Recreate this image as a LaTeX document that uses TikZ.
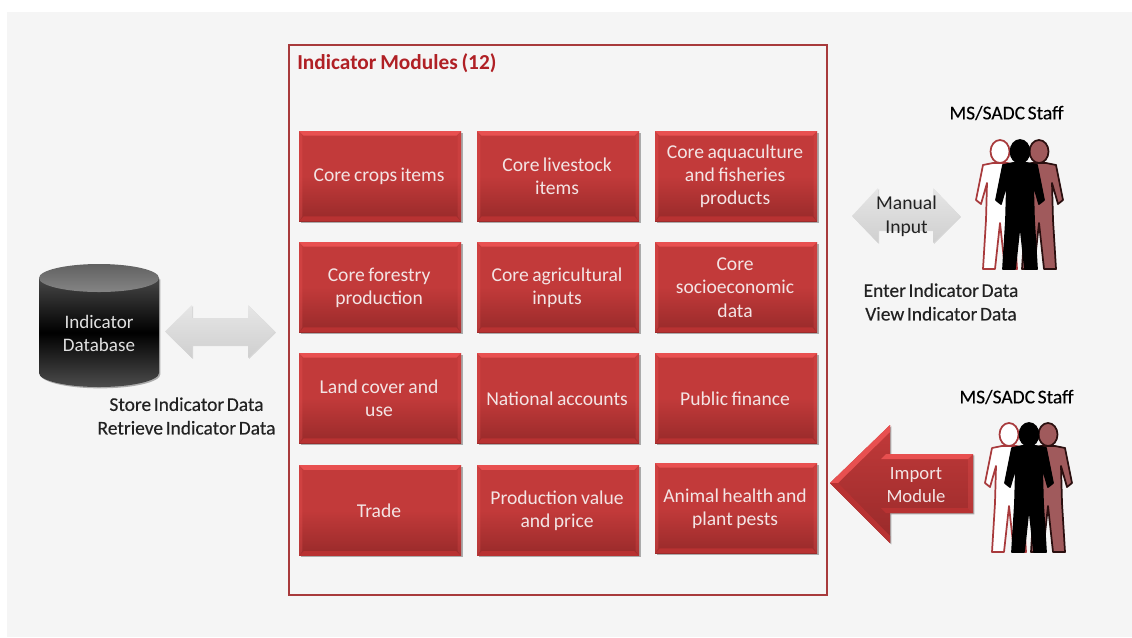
\documentclass[tikz,border=0pt]{standalone}
\usepackage{fontspec}
\setmainfont{Carlito}
\newfontfamily\tightfont[WordSpace=0.78]{Carlito}
\newfontfamily\labelfont[WordSpace=0.6,FakeBold=0.25]{Carlito}
\usetikzlibrary{shadows,calc}
\definecolor{panel}{HTML}{F5F5F5}
\definecolor{frame}{HTML}{A83A3C}
\definecolor{redmid}{HTML}{C23A3A}
\definecolor{reddark}{HTML}{982A2A}
\definecolor{redlight}{HTML}{E85050}
\definecolor{redlow}{HTML}{B83232}
\definecolor{rosy}{HTML}{A05A5C}
\definecolor{titlered}{HTML}{B02025}
\definecolor{boxtext}{HTML}{F3E4E4}
\definecolor{arrowlight}{HTML}{E6E6E6}
\definecolor{arrowlow}{HTML}{CFCFCF}
\definecolor{inktext}{HTML}{222222}
\tikzset{
  x=0.75pt,y=-0.75pt,
  softshadow/.style={drop shadow={shadow xshift=1.2pt,shadow yshift=-1.2pt,opacity=0.3,fill=black}},
  faintshadow/.style={drop shadow={shadow xshift=0.8pt,shadow yshift=-0.8pt,opacity=0.12,fill=black}},
  bevelbox/.style={
    rectangle,minimum width=121.5pt,minimum height=67.5pt,inner sep=0pt,
    top color=redmid,bottom color=reddark,middle color=redmid,
    softshadow,
    path picture={
      \fill[redlight] (path picture bounding box.north west) -- (path picture bounding box.north east)
        -- ++(-3.5pt,-3.5pt) -- ($(path picture bounding box.north west)+(3.5pt,-3.5pt)$) -- cycle;
      \fill[redlow] (path picture bounding box.south west) -- (path picture bounding box.south east)
        -- ++(-3.5pt,3.5pt) -- ($(path picture bounding box.south west)+(3.5pt,3.5pt)$) -- cycle;
      \fill[redlight,opacity=0.35] (path picture bounding box.north west) -- (path picture bounding box.south west)
        -- ++(2.5pt,3.5pt) -- ($(path picture bounding box.north west)+(2.5pt,-3.5pt)$) -- cycle;
      \fill[redlight,opacity=0.25] (path picture bounding box.north east) -- (path picture bounding box.south east)
        -- ++(-2.5pt,3.5pt) -- ($(path picture bounding box.north east)+(-2.5pt,-3.5pt)$) -- cycle;
    }},
  boxlabel/.style={align=center,inner sep=0pt,text=boxtext,font=\tightfont\fontsize{14.7}{17.3}\selectfont},
  plainlabel/.style={text=inktext,font=\labelfont\fontsize{14.6}{17.7}\selectfont,align=center,inner sep=0pt},
  grayarrow/.style={top color=arrowlight,bottom color=arrowlow,faintshadow},
  staffline/.style={line width=1.3pt,line join=round},
  person/.pic={
    \path[pic actions,staffline] (0,11.5) ellipse [x radius=9.5,y radius=11.5];
    \path[pic actions,staffline] (-7,23) -- (-17,25) -- (-24,60) -- (-19,64) -- (-13,43) -- (-14,80) -- (-17,129)
      -- (-5,129) -- (0,83) -- (5,129) -- (17,129) -- (14,80) -- (13,43) -- (19,64) -- (24,60) -- (17,25) -- (7,23) -- cycle;
  }
}
\newcommand{\staffgroup}[2]{%
  \pic[draw=frame,fill=white] at (#1-20,#2) {person};
  \pic[draw=black!75!frame,fill=rosy] at (#1+19,#2) {person};
  \pic[draw=black,fill=black] at (#1,#2) {person};
}
\newcommand{\modulebox}[4][]{%
  \node[bevelbox,#1] (m#2) at #3 {};
  \node[boxlabel] (t#2) at ([xshift=-0.7pt,yshift=-0.5pt]m#2.center) {#4};
}
\begin{document}
\begin{tikzpicture}
\useasboundingbox (0,0) rectangle (1132,637);
\fill[white] (0,0) rectangle (1132,637);
\fill[panel] (7,12) rectangle (1132,637);
% frame
\node[draw=frame,line width=1.5pt,fill=panel,minimum width=403.5pt,minimum height=412.5pt,inner sep=0pt,
  drop shadow={shadow xshift=0.8pt,shadow yshift=-0.8pt,opacity=0.2,fill=black}] (frame) at (558,320) {};
\node[anchor=west,inner sep=0pt,text=titlered,font=\tightfont\fontsize{16}{18}\selectfont\bfseries] (title) at (297,63.5) {Indicator Modules (12)};
% modules
\modulebox{1}{(380,176)}{Core crops items}
\modulebox{2}{(558,176)}{Core livestock\\items}
\modulebox{3}{(736,176)}{Core aquaculture\\and fisheries\\products}
\modulebox{4}{(380,287)}{Core forestry\\production}
\modulebox{5}{(558,287)}{Core agricultural\\inputs}
\modulebox{6}{(736,287)}{Core\\socioeconomic\\data}
\modulebox{7}{(380,398)}{Land cover and\\use}
\modulebox{8}{(558,398)}{National accounts}
\modulebox{9}{(736,398)}{Public finance}
\modulebox[minimum height=68pt]{10}{(380,510.5)}{Trade}
\modulebox[minimum height=68pt]{11}{(558,510.5)}{Production value\\and price}
\modulebox{12}{(736,508)}{Animal health and\\plant pests}
% database
\path[top color=black!72,bottom color=black!70,middle color=black,drop shadow={shadow xshift=1pt,shadow yshift=-1pt,opacity=0.3,fill=black}]
  (39,278) -- (39,373) arc [start angle=180,end angle=0,x radius=60,y radius=14] -- (159,278) -- cycle;
\shade[top color=black!62,bottom color=black!48] (99,278) ellipse [x radius=60,y radius=14];
\node[text=white!88!black,align=center,inner sep=0pt,font=\fontsize{14.3}{17.3}\selectfont] (db) at (99,333) {Indicator\\Database};
\node[plainlabel] (dblabel) at (186.5,416) {Store Indicator Data\\Retrieve Indicator Data};
% db arrow
\path[grayarrow] (165,331.5) -- (192,305) -- (192,318) -- (248,318) -- (248,305) -- (275,331.5) -- (248,358) -- (248,345) -- (192,345) -- (192,358) -- cycle;
% manual arrow
\path[grayarrow] (852,216) -- (878,188) -- (878,201) -- (933,201) -- (933,188) -- (960,216) -- (933,243) -- (933,230) -- (878,230) -- (878,243) -- cycle;
\node[text=inktext,align=center,inner sep=0pt,font=\fontsize{14.7}{17.7}\selectfont] (manualtext) at (906.5,216) {Manual\\Input};
% import arrow
\path[top color=redmid,bottom color=reddark,drop shadow={shadow xshift=1pt,shadow yshift=-1pt,opacity=0.3,fill=black}]
  (830,483) -- (890,425) -- (890,454) -- (973,454) -- (973,513) -- (890,513) -- (890,543) -- cycle;
\fill[redlight] (830,483) -- (890,425) -- (890,432) -- (838,483) -- cycle;
\fill[redlight] (886,454) -- (973,454) -- (968,459) -- (881,459) -- cycle;
\fill[redlow] (881,508) -- (968,508) -- (973,513) -- (886,513) -- cycle;
\fill[redlight,opacity=0.3] (973,454) -- (973,513) -- (968,508) -- (968,459) -- cycle;
\fill[redlow] (830,483) -- (890,543) -- (890,536) -- (838,483) -- cycle;
\node[text=boxtext,align=center,inner sep=0pt,font=\fontsize{14}{17.3}\selectfont] (import) at (916,485.5) {Import\\Module};
% staff
\node[plainlabel,text=black,font=\labelfont\fontsize{14.6}{17}\selectfont] (staff1) at (1006.5,113) {MS/SADC Staff};
\staffgroup{1020}{140}
\node[plainlabel] (viewtext) at (941,302) {Enter Indicator Data\\View Indicator Data};
\node[plainlabel,text=black,font=\labelfont\fontsize{14.6}{17}\selectfont] (staff2) at (1016.5,397) {MS/SADC Staff};
\staffgroup{1029}{423}
\end{tikzpicture}
\end{document}
